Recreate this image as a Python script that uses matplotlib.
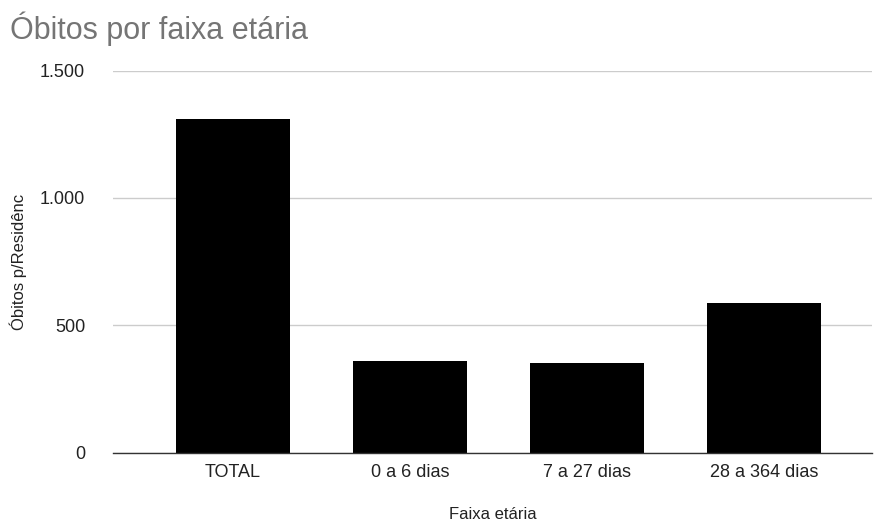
import matplotlib
matplotlib.use('Agg')
import matplotlib.pyplot as plt
from matplotlib.ticker import FuncFormatter

# Deaths by age group
categories = ['TOTAL', '0 a 6 dias', '7 a 27 dias', '28 a 364 dias']
values = [1308, 359, 352, 587]

plt.rcParams['font.family'] = ['Liberation Sans', 'DejaVu Sans']

fig = plt.figure(figsize=(8.75, 5.23), dpi=100, facecolor='white')
ax = fig.add_axes([113 / 875, 70.5 / 523, 759 / 875, 382 / 523])

x = range(len(categories))
ax.bar(x, values, width=0.645, color='black', zorder=3)

ax.set_ylim(0, 1500)
ax.set_xlim(-0.678, 3.61)
ax.set_yticks([0, 500, 1000, 1500])
ax.yaxis.set_major_formatter(FuncFormatter(lambda v, p: f"{int(v):,}".replace(',', '.')))
ax.set_xticks(list(x))
ax.set_xticklabels(categories)

ax.grid(axis='y', color='#cccccc', linewidth=1, zorder=0)
for side in ['top', 'right', 'left']:
    ax.spines[side].set_visible(False)
ax.spines['bottom'].set_color('#333333')
ax.spines['bottom'].set_linewidth(1)
ax.spines['bottom'].set_zorder(4)

ax.tick_params(axis='y', length=0, pad=20, labelsize=13, labelcolor='#222222')
ax.tick_params(axis='x', length=0, pad=8, labelsize=13, labelcolor='#222222')

ax.set_xlabel('Faixa etária', fontsize=12, color='#222222', labelpad=19)
ax.set_ylabel('Óbitos p/Residênc', fontsize=12, color='#222222', labelpad=9)

fig.text(10 / 875, 1 - 29 / 523, 'Óbitos por faixa etária', fontsize=22,
         color='#757575', va='center', ha='left')

fig.savefig('out.png', dpi=100, facecolor='white')
plt.close(fig)
